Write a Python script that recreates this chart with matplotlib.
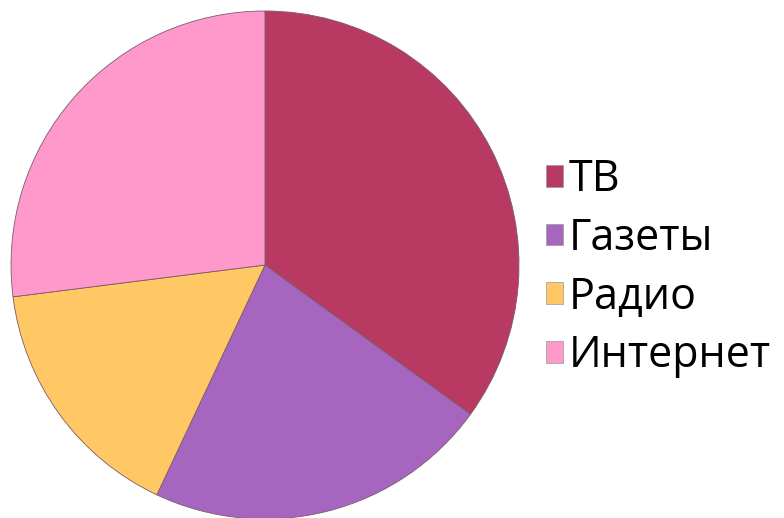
import matplotlib
matplotlib.use("Agg")
import matplotlib.pyplot as plt
from matplotlib.patches import Patch

categories = ["ТВ", "Газеты", "Радио", "Интернет"]
values = [35, 22, 16, 27]
colors = ["#B83A63", "#A666C0", "#FFC864", "#FF99CC"]

fig = plt.figure(figsize=(7.84, 5.18), dpi=100)
W, H = 784, 518
cx, cy, r = 265, 265, 254
ax = fig.add_axes([(cx - r) / W, 1 - (cy + r) / H, 2 * r / W, 2 * r / H])
ax.pie(values, colors=colors, startangle=90, counterclock=False,
       wedgeprops=dict(edgecolor="#7a5a6a", linewidth=0.6))
ax.set_xlim(-1, 1)
ax.set_ylim(-1, 1)
ax.set_aspect("equal")
ax.axis("off")

handles = [Patch(facecolor=c, edgecolor="#999999", linewidth=0.5) for c in colors]
fig.legend(handles, categories, loc="center left", bbox_to_anchor=(546 / W, 1 - 268 / H),
           frameon=False, handlelength=0.4, handleheight=0.4,
           handletextpad=0.12, labelspacing=0.33, borderaxespad=0, borderpad=0,
           prop={"family": ["Open Sans", "DejaVu Sans"], "size": 31})
fig.savefig("out.png", dpi=100, facecolor="white")
